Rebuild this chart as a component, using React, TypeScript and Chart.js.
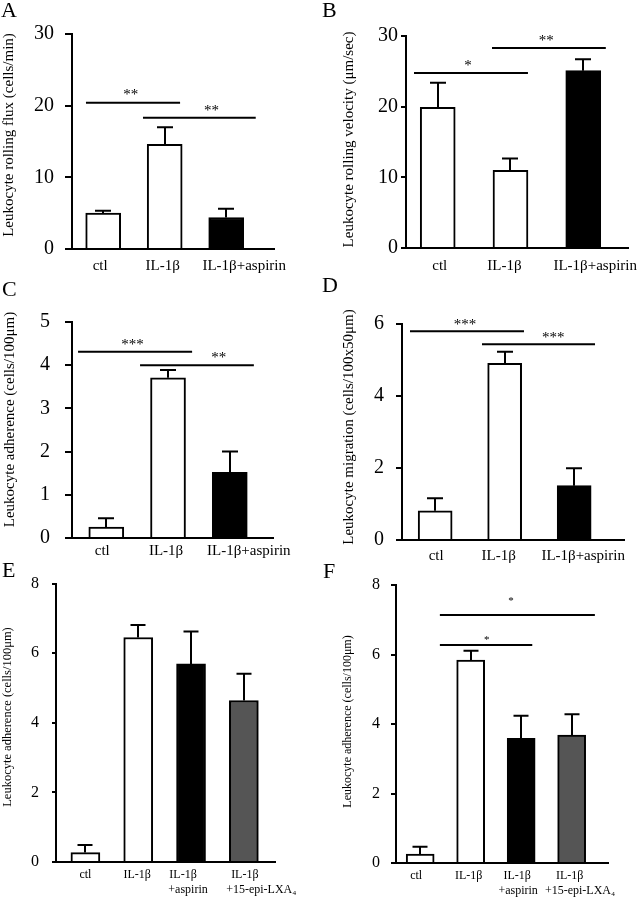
import React, { useEffect, useRef } from 'react';
import { Chart, registerables } from 'chart.js';

Chart.register(...registerables);
Chart.defaults.font.family = "'Liberation Serif', 'Times New Roman', serif";
Chart.defaults.color = '#000';

// ---------- data ----------
const catsABCD = ['ctl', 'IL-1β', 'IL-1β+aspirin'];
const catsEF: (string | string[])[] = ['ctl', 'IL-1β', ['IL-1β', '+aspirin'], ['IL-1β', '+15-epi-LXA₄']];

const fills3 = ['#ffffff', '#ffffff', '#000000'];
const fills4 = ['#ffffff', '#ffffff', '#000000', '#555555'];

// A: rolling flux
const meanA = [5.0, 14.6, 4.4];
const errA = [0.35, 2.4, 1.2];
const sigA = [
  { from: -0.28, to: 1.25, level: 20.4, text: '**', tx: 0.45, ty: 21.97 },
  { from: 0.647, to: 2.48, level: 18.3, text: '**', tx: 1.76, ty: 19.73 },
];

// B: rolling velocity
const meanB = [19.9, 11.0, 25.1];
const errB = [3.5, 1.65, 1.6];
const sigB = [
  { from: -0.326, to: 1.24, level: 24.75, text: '*', tx: 0.416, ty: 26.2 },
  { from: 0.746, to: 2.31, level: 28.3, text: '**', tx: 1.49, ty: 29.66 },
];

// C: adherence
const meanC = [0.25, 3.71, 1.52];
const errC = [0.21, 0.18, 0.48];
const sigC = [
  { from: -0.457, to: 1.39, level: 4.31, text: '***', tx: 0.425, ty: 4.54 },
  { from: 0.547, to: 2.39, level: 4.0, text: '**', tx: 1.82, ty: 4.24 },
];

// D: migration
const meanD = [0.81, 4.91, 1.51];
const errD = [0.35, 0.32, 0.48];
const sigD = [
  { from: -0.362, to: 1.278, level: 5.8, text: '***', tx: 0.43, ty: 6.06 },
  { from: 0.674, to: 2.3, level: 5.44, text: '***', tx: 1.7, ty: 5.69 },
];

// E: adherence
const meanE = [0.27, 6.45, 5.69, 4.64];
const errE = [0.22, 0.36, 0.93, 0.77];
const sigE: any[] = [];

// F: adherence
const meanF = [0.26, 5.84, 3.59, 3.68];
const errF = [0.21, 0.27, 0.65, 0.6];
const sigF = [
  { from: 0.39, to: 3.46, level: 7.14, text: '*', tx: 1.8, ty: 7.59 },
  { from: 0.39, to: 2.22, level: 6.27, text: '*', tx: 1.32, ty: 6.49 },
];

// ---------- panel layout (page coordinates) ----------
const panels = [
  {
    letter: 'A', letterPos: [1, 17], region: [0, 0, 321, 290], area: [72, 274, 34, 249], xr: [-0.507, 2.777],
    yMax: 30, yStep: 10, tickSize: 20, tickLen: 7, tickPad: 11, xFont: 15, xPad: 9.5, bar: 35, cap: 16,
    labelShift: [-3, -2, 18], line2Shift: [0, 0, 0],
    title: 'Leukocyte rolling flux (cells/min)', titleSize: 15, titlePos: [9, 135], starSize: 15,
    cats: catsABCD, means: meanA, errs: errA, fills: fills3, sig: sigA,
  },
  {
    letter: 'B', letterPos: [322, 17], region: [321, 0, 321, 290], area: [406, 628, 36, 248], xr: [-0.436, 2.615],
    yMax: 30, yStep: 10, tickSize: 20, tickLen: 5, tickPad: 3, xFont: 15, xPad: 10.5, bar: 35, cap: 16,
    labelShift: [2, -6, 12], line2Shift: [0, 0, 0],
    title: 'Leukocyte rolling velocity (μm/sec)', titleSize: 15, titlePos: [349, 139.5], starSize: 15,
    cats: catsABCD, means: meanB, errs: errB, fills: fills3, sig: sigB,
  },
  {
    letter: 'C', letterPos: [2, 296], region: [0, 275, 321, 295], area: [72, 273, 322, 538], xr: [-0.555, 2.7],
    yMax: 5, yStep: 1, tickSize: 20, tickLen: 7, tickPad: 15, xFont: 15, xPad: 5.5, bar: 35, cap: 16,
    labelShift: [-4, -2, 19], line2Shift: [0, 0, 0],
    title: 'Leukocyte adherence (cells/100μm)', titleSize: 15, titlePos: [10, 419.5], starSize: 15,
    cats: catsABCD, means: meanC, errs: errC, fills: fills3, sig: sigC,
  },
  {
    letter: 'D', letterPos: [322, 292], region: [321, 270, 321, 300], area: [402, 624, 324, 540], xr: [-0.477, 2.717],
    yMax: 6, yStep: 2, tickSize: 20, tickLen: 6, tickPad: 12, xFont: 15, xPad: 8.5, bar: 34, cap: 16,
    labelShift: [1, -6, 9], line2Shift: [0, 0, 0],
    title: 'Leukocyte migration (cells/100x50μm)', titleSize: 15, titlePos: [349, 427], starSize: 15,
    cats: catsABCD, means: meanD, errs: errD, fills: fills3, sig: sigD,
  },
  {
    letter: 'E', letterPos: [2, 577], region: [0, 555, 321, 344], area: [56, 275, 583.5, 862], xr: [-0.557, 3.59],
    yMax: 8, yStep: 2, tickSize: 16, tickLen: 4, tickPad: 13, xFont: 12, xPad: 7, bar: 29, cap: 15,
    labelShift: [0, -1, -8, 1], line2Shift: [0, 0, -1, -5],
    title: 'Leukocyte adherence (cells/100μm)', titleSize: 12.5, titlePos: [8, 717], starSize: 11,
    cats: catsEF, means: meanE, errs: errE, fills: fills4, sig: sigE,
  },
  {
    letter: 'F', letterPos: [323, 578], region: [321, 555, 321, 344], area: [396, 608, 585, 863], xr: [-0.479, 3.72],
    yMax: 8, yStep: 2, tickSize: 16, tickLen: 5, tickPad: 11, xFont: 12, xPad: 6.5, bar: 28, cap: 15,
    labelShift: [-4, -2, -4, -2], line2Shift: [0, 0, -5, -11],
    title: 'Leukocyte adherence (cells/100μm)', titleSize: 12, titlePos: [348, 721.5], starSize: 11,
    cats: catsEF, means: meanF, errs: errF, fills: fills4, sig: sigF,
  },
];

const FONT = "'Liberation Serif', 'Times New Roman', serif";

function Panel({ cfg }: { cfg: any }) {
  const ref = useRef<HTMLCanvasElement | null>(null);
  const [rx, ry, w, h] = cfg.region;
  useEffect(() => {
    const [gl, gr, gt, gb] = cfg.area;
    const al = gl - rx;
    const ar = gr - rx;
    const at = gt - ry;
    const ab = gb - ry;
    const annot = {
      id: 'annot' + cfg.letter,
      afterDatasetsDraw(chart: any) {
        const { ctx, scales, chartArea } = chart;
        const xs = scales.x;
        const ys = scales.y;
        ctx.save();
        ctx.strokeStyle = '#000';
        ctx.fillStyle = '#000';
        ctx.lineWidth = 2;
        ctx.lineCap = 'butt';
        // error bars
        cfg.means.forEach((m: number, i: number) => {
          const px = Math.round(xs.getPixelForValue(i));
          const y1 = ys.getPixelForValue(m);
          const y2 = ys.getPixelForValue(m + cfg.errs[i]);
          ctx.beginPath();
          ctx.moveTo(px, y1);
          ctx.lineTo(px, y2);
          ctx.moveTo(px - cfg.cap / 2, y2);
          ctx.lineTo(px + cfg.cap / 2, y2);
          ctx.stroke();
        });
        // significance lines
        cfg.sig.forEach((s: any) => {
          const yy = ys.getPixelForValue(s.level);
          ctx.beginPath();
          ctx.moveTo(xs.getPixelForValue(s.from), yy);
          ctx.lineTo(xs.getPixelForValue(s.to), yy);
          ctx.stroke();
          ctx.font = `${cfg.starSize}px ${FONT}`;
          ctx.textAlign = 'center';
          ctx.textBaseline = 'alphabetic';
          ctx.fillText(s.text, xs.getPixelForValue(s.tx), ys.getPixelForValue(s.ty) + 0.47 * cfg.starSize);
        });
        // category labels
        ctx.font = `${cfg.xFont}px ${FONT}`;
        ctx.textBaseline = 'top';
        const lineH = cfg.xFont * 1.25;
        cfg.cats.forEach((c: any, i: number) => {
          const lines: string[] = Array.isArray(c) ? c : [c];
          const cx = xs.getPixelForValue(i) + cfg.labelShift[i];
          const top = chartArea.bottom + cfg.xPad;
          const w1 = ctx.measureText(lines[0]).width;
          ctx.textAlign = 'center';
          ctx.fillText(lines[0], cx, top);
          ctx.textAlign = 'left';
          for (let k = 1; k < lines.length; k++) {
            ctx.fillText(lines[k], cx - w1 / 2 + cfg.line2Shift[i], top + k * lineH);
          }
        });
        // panel letter
        ctx.font = `22px ${FONT}`;
        ctx.textAlign = 'left';
        ctx.textBaseline = 'alphabetic';
        ctx.fillText(cfg.letter, cfg.letterPos[0] - rx, cfg.letterPos[1] - ry);
        // y title
        ctx.save();
        ctx.translate(cfg.titlePos[0] - rx, cfg.titlePos[1] - ry);
        ctx.rotate(-Math.PI / 2);
        ctx.font = `${cfg.titleSize}px ${FONT}`;
        ctx.textAlign = 'center';
        ctx.textBaseline = 'middle';
        ctx.fillText(cfg.title, 0, 0);
        ctx.restore();
        ctx.restore();
      },
    };
    const chart = new Chart(ref.current as HTMLCanvasElement, {
      type: 'bar',
      data: {
        datasets: [
          {
            data: cfg.means.map((m: number, i: number) => ({ x: i, y: m })),
            backgroundColor: cfg.fills,
            borderColor: '#000',
            borderWidth: 2,
            borderSkipped: 'start',
            barThickness: cfg.bar,
          },
        ],
      },
      options: {
        responsive: false,
        maintainAspectRatio: false,
        animation: false,
        devicePixelRatio: 1,
        layout: { padding: { left: 0, top: at, right: w - ar, bottom: 0 } },
        plugins: { legend: { display: false }, tooltip: { enabled: false } },
        scales: {
          x: {
            type: 'linear',
            offset: false,
            min: cfg.xr[0],
            max: cfg.xr[1],
            afterFit: (s: any) => {
              s.height = h - ab;
            },
            afterBuildTicks: (s: any) => {
              s.ticks = cfg.cats.map((_: any, i: number) => ({ value: i }));
            },
            ticks: { display: false },
            grid: { display: false, drawTicks: false, offset: false },
            border: { display: true, color: '#000', width: 2 },
          },
          y: {
            type: 'linear',
            min: 0,
            max: cfg.yMax,
            afterFit: (s: any) => {
              s.width = al;
            },
            ticks: {
              stepSize: cfg.yStep,
              color: '#000',
              padding: cfg.tickPad,
              font: { size: cfg.tickSize, family: FONT },
            },
            grid: {
              display: true,
              drawOnChartArea: false,
              drawTicks: true,
              tickLength: cfg.tickLen,
              color: '#000',
              lineWidth: 2,
            },
            border: { display: true, color: '#000', width: 2 },
          },
        },
      } as any,
      plugins: [annot],
    });
    return () => chart.destroy();
  }, []);
  return (
    <canvas
      ref={ref}
      width={w}
      height={h}
      style={{ position: 'absolute', left: rx, top: ry, width: w, height: h }}
    />
  );
}

export default function App() {
  return (
    <div style={{ position: 'absolute', left: 0, top: 0, width: 642, height: 899, background: '#fff' }}>
      {panels.map((p) => (
        <Panel key={p.letter} cfg={p} />
      ))}
    </div>
  );
}
